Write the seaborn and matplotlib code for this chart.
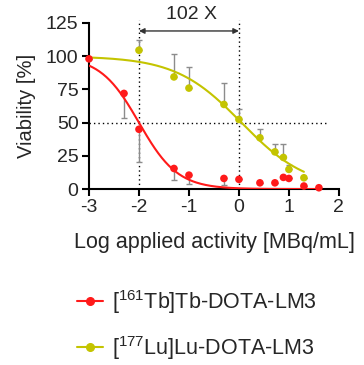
import numpy as np
import pandas as pd
import matplotlib
matplotlib.use("Agg")
import matplotlib.pyplot as plt
import seaborn as sns
from matplotlib.lines import Line2D

sns.set_style("ticks")
plt.rcParams['font.family'] = ['Liberation Sans', 'DejaVu Sans']
plt.rcParams['mathtext.fontset'] = 'custom'
plt.rcParams['mathtext.rm'] = 'Liberation Sans'
plt.rcParams['mathtext.it'] = 'Liberation Sans'

# --- data ---
tb_x = [-3.0, -2.3, -2.0, -1.3, -1.0, -0.3, 0.0, 0.42, 0.72, 0.89, 1.0, 1.3, 1.6]
tb_y = [98, 72, 45, 15.5, 10.5, 8, 7.3, 4.7, 4.7, 8.8, 8, 2.3, 1]
tb_err_low = [0, 18.4, 25, 8.7, 6.5, 5, 0, 0, 0, 0, 0, 0, 0]

lu_x = [-2.0, -1.3, -1.0, -0.3, 0.0, 0.42, 0.72, 0.89, 1.0, 1.3]
lu_y = [104.5, 84.4, 76, 63.7, 52.4, 38.6, 28, 23.8, 14.8, 8.5]
lu_err_up = [7.5, 17, 16, 16.5, 8, 6.5, 6, 10, 3.5, 0]

# fitted dose-response parameters (top, bottom, logIC50, hill)
tb_fit = dict(top=100, bottom=0, logic50=-2.0, hill=1.12, xmin=-3.0, xmax=1.6)
lu_fit = dict(top=100, bottom=0, logic50=0.05, hill=0.66, xmin=-3.0, xmax=1.3)

x_ticks = [-3, -2, -1, 0, 1, 2]
y_ticks = [0, 25, 50, 75, 100, 125]
labels = ["[$^{161}$Tb]Tb-DOTA-LM3", "[$^{177}$Lu]Lu-DOTA-LM3"]
fold_label = "102 X"

red = "#FF1A1A"
yel = "#C4C400"

def curve(p):
    xs = np.linspace(p['xmin'], p['xmax'], 200)
    ys = p['bottom'] + (p['top'] - p['bottom']) / (1 + 10 ** ((xs - p['logic50']) * p['hill']))
    return pd.DataFrame({'x': xs, 'y': ys})

fig = plt.figure(figsize=(3.64, 3.65), dpi=100)
ax = fig.add_axes([0.2445, 0.482, 0.6865, 0.455])

# reference lines
dot = dict(color='black', lw=1.0, linestyle=(0, (1, 2.2)), clip_on=False, zorder=1)
ax.plot([-3, 1.75], [50, 50], **dot)
ax.plot([-2, -2], [0, 127], **dot)
ax.plot([0, 0], [0, 127], **dot)
ax.annotate("", xy=(-2, 119), xytext=(0, 119),
            arrowprops=dict(arrowstyle='<|-|>', color='#333333', lw=1.0,
                            mutation_scale=8, shrinkA=0, shrinkB=0),
            annotation_clip=False)
ax.text(-0.94, 131.5, fold_label, ha='center', va='center', fontsize=14, clip_on=False)

# error bars
ax.errorbar(tb_x, tb_y, yerr=[tb_err_low, [0] * len(tb_err_low)], fmt='none',
            ecolor='#8c8c8c', elinewidth=1.0, capsize=2.5, capthick=1.0, zorder=2)
ax.errorbar(lu_x, lu_y, yerr=[[0] * len(lu_err_up), lu_err_up], fmt='none',
            ecolor='#8c8c8c', elinewidth=1.0, capsize=2.5, capthick=1.0, zorder=2)

# fitted curves
sns.lineplot(data=curve(tb_fit), x='x', y='y', color=red, lw=1.5, ax=ax, zorder=3)
sns.lineplot(data=curve(lu_fit), x='x', y='y', color=yel, lw=1.5, ax=ax, zorder=3)

# points
sns.scatterplot(x=tb_x, y=tb_y, color=red, s=30, edgecolor='none', ax=ax, zorder=4, clip_on=False)
sns.scatterplot(x=lu_x, y=lu_y, color=yel, s=30, edgecolor='none', ax=ax, zorder=4, clip_on=False)

ax.set_xlim(-3, 2)
ax.set_ylim(0, 125)
ax.set_xticks(x_ticks)
ax.set_xticklabels([str(t) for t in x_ticks])
ax.set_yticks(y_ticks)
ax.tick_params(axis='both', labelsize=14, width=1.5, length=5, color='black',
               direction='out', pad=2.5)
for s in ['top', 'right']:
    ax.spines[s].set_visible(False)
for s in ['left', 'bottom']:
    ax.spines[s].set_linewidth(1.5)
    ax.spines[s].set_color('black')
ax.set_xlabel("Log applied activity [MBq/mL]", fontsize=15.5, labelpad=11)
ax.set_ylabel("Viability [%]", fontsize=14.5, labelpad=7)

handles = [Line2D([0], [0], color=red, lw=1.5, marker='o', ms=5.5),
           Line2D([0], [0], color=yel, lw=1.5, marker='o', ms=5.5)]
fig.legend(handles, labels, loc='upper left', bbox_to_anchor=(0.187, 0.235),
           frameon=False, fontsize=15.5, handlelength=1.2, handletextpad=0.45,
           labelspacing=0.85, borderaxespad=0)

fig.savefig("out.png", dpi=100)
